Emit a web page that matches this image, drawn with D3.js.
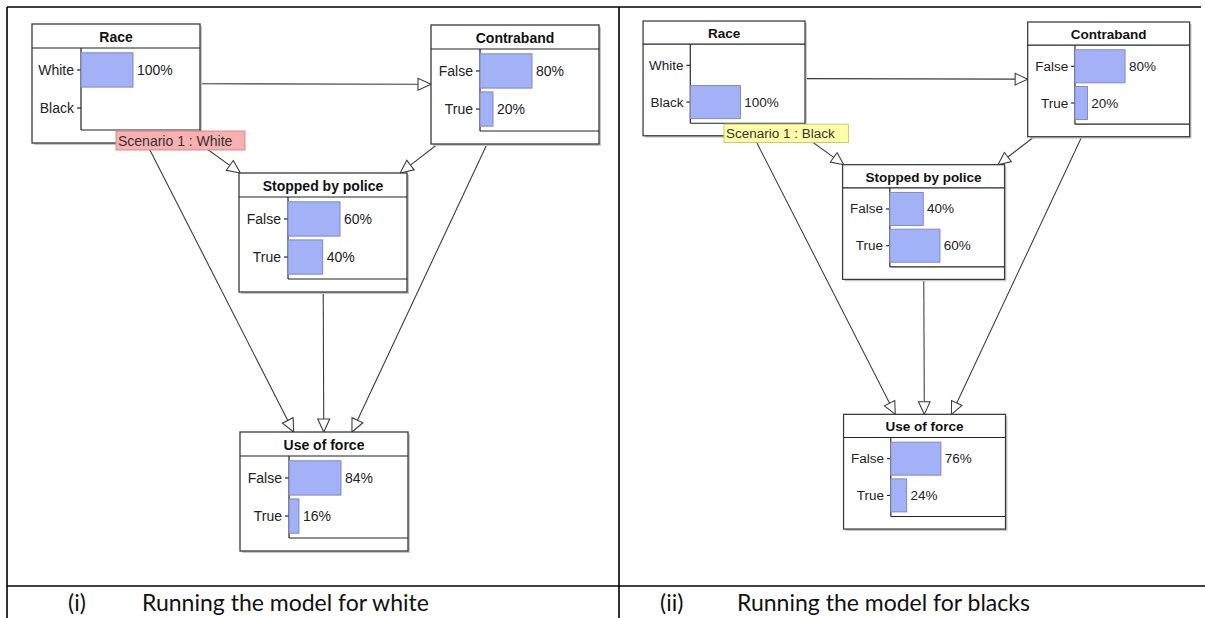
<!DOCTYPE html>
<html lang="en">
  <head>
    <meta charset="UTF-8">
    <title>Bayesian network - use of force scenarios</title>
    <style>
      body { margin: 0; background: #fff; }
      .grid-line { stroke: #000; stroke-width: 1.6px; }
      .edge { fill: none; stroke: #3c3c3c; stroke-width: 1.1px; }
      .arrow-head { fill: #fff; stroke: #3c3c3c; stroke-width: 1.1px; }
      .node-shadow { fill: #c8c8c8; }
      .node-box { fill: #fff; stroke: #3a3a3a; stroke-width: 1.3px; }
      .node-title { font: bold 14px "Liberation Sans", Arial, sans-serif; fill: #111; }
      .state-label, .pct-label { font: 14px "Liberation Sans", Arial, sans-serif; fill: #222; }
      .axis-line { stroke: #222; stroke-width: 1.2px; }
      .bar { fill: #a3b1f7; stroke: #7d89c9; stroke-width: 1px; }
      .scenario-text { font: 14px "Liberation Sans", Arial, sans-serif; fill: #333; }
      .caption { font: 23px Lato, "Open Sans", sans-serif; fill: #111; }
    </style>
  </head>
  <body>
    <script src="https://cdnjs.cloudflare.com/ajax/libs/d3/7.8.5/d3.min.js"></script>
    <script>
      // --- data ---
      const nodeNames = ["Race", "Contraband", "Stopped by police", "Use of force"];
      const nodeStates = [["White", "Black"], ["False", "True"], ["False", "True"], ["False", "True"]];
      // parent -> child
      const edges = [[0, 1], [0, 2], [1, 2], [0, 3], [1, 3], [2, 3]];

      const scenarioLabels = ["Scenario 1 : White", "Scenario 1 : Black"];
      const probsWhite = [[100, 0], [80, 20], [60, 40], [84, 16]];
      const probsBlack = [[0, 100], [80, 20], [40, 60], [76, 24]];
      const captionNumbers = ["(i)", "(ii)"];
      const captionTexts = ["Running the model for white", "Running the model for blacks"];

      const W = 1205, H = 618;

      const svg = d3.select("body").append("svg")
        .attr("width", W)
        .attr("height", H);

      // node boxes in diagram units (left panel is 1:1 with pixels)
      const nodeW = 168, nodeH = 119, headerH = 24, axisX = 49, axisBottom = 106;
      const nodePos = [[32, 24], [431, 25], [239, 173], [240, 432]];

      const panels = [
        { probs: probsWhite, scenario: scenarioLabels[0], tx: 0, ty: 0, k: 1,
          tagFill: "#f8b0b0", tagStroke: "#d88a8a" },
        { probs: probsBlack, scenario: scenarioLabels[1], tx: 612.2, ty: -2.1, k: 0.964,
          tagFill: "#ffffa8", tagStroke: "#c8c870" }
      ];

      const rowScale = d3.scaleBand().range([25, 105]).padding(0.1);

      // where the line from the box centre towards (px,py) leaves the box
      function clipToBox(i, px, py) {
        const [x, y] = nodePos[i];
        const cx = x + nodeW / 2, cy = y + nodeH / 2;
        const dx = px - cx, dy = py - cy;
        const t = Math.min(
          dx === 0 ? Infinity : (nodeW / 2) / Math.abs(dx),
          dy === 0 ? Infinity : (nodeH / 2) / Math.abs(dy));
        return [cx + dx * t, cy + dy * t];
      }

      panels.forEach(p => {
        const g = svg.append("g")
          .attr("transform", `translate(${p.tx},${p.ty}) scale(${p.k})`);

        // edges with hollow arrow heads
        edges.forEach(([s, t]) => {
          const sc = [nodePos[s][0] + nodeW / 2, nodePos[s][1] + nodeH / 2];
          const tc = [nodePos[t][0] + nodeW / 2, nodePos[t][1] + nodeH / 2];
          const a = clipToBox(s, tc[0], tc[1]);
          const b = clipToBox(t, sc[0], sc[1]);
          const len = Math.hypot(b[0] - a[0], b[1] - a[1]);
          const ux = (b[0] - a[0]) / len, uy = (b[1] - a[1]) / len;
          const headL = 13, headW = 6;
          const bx = b[0] - ux * headL, by = b[1] - uy * headL;
          g.append("line").attr("class", "edge")
            .attr("x1", a[0]).attr("y1", a[1]).attr("x2", bx).attr("y2", by);
          g.append("path").attr("class", "arrow-head")
            .attr("d", `M${b[0]},${b[1]} L${bx - uy * headW},${by + ux * headW} L${bx + uy * headW},${by - ux * headW} Z`);
        });

        // nodes
        nodeNames.forEach((name, i) => {
          const [x, y] = nodePos[i];
          const node = g.append("g").attr("transform", `translate(${x},${y})`);
          node.append("rect").attr("class", "node-shadow")
            .attr("x", 2).attr("y", 2).attr("width", nodeW).attr("height", nodeH);
          node.append("rect").attr("class", "node-box")
            .attr("width", nodeW).attr("height", nodeH);
          node.append("line").attr("class", "axis-line")
            .attr("x1", 0).attr("x2", nodeW).attr("y1", headerH).attr("y2", headerH);
          node.append("text").attr("class", "node-title")
            .attr("x", nodeW / 2).attr("y", headerH / 2 + 1)
            .attr("text-anchor", "middle").attr("dominant-baseline", "central")
            .text(name);

          const values = p.probs[i];
          const barScale = d3.scaleLinear().domain([0, d3.max(values)]).range([0, 52]);
          rowScale.domain(nodeStates[i]);

          // chart axes
          node.append("line").attr("class", "axis-line")
            .attr("x1", axisX).attr("x2", axisX).attr("y1", headerH).attr("y2", axisBottom);
          node.append("line").attr("class", "axis-line")
            .attr("x1", axisX).attr("x2", nodeW).attr("y1", axisBottom).attr("y2", axisBottom);

          nodeStates[i].forEach((st, j) => {
            const yc = rowScale(st) + rowScale.bandwidth() / 2;
            node.append("line").attr("class", "axis-line")
              .attr("x1", axisX - 4).attr("x2", axisX).attr("y1", yc).attr("y2", yc);
            node.append("text").attr("class", "state-label")
              .attr("x", axisX - 7).attr("y", yc)
              .attr("text-anchor", "end").attr("dominant-baseline", "central")
              .text(st);
            if (values[j] > 0) {
              node.append("rect").attr("class", "bar")
                .attr("x", axisX).attr("y", rowScale(st))
                .attr("width", barScale(values[j])).attr("height", rowScale.bandwidth());
              node.append("text").attr("class", "pct-label")
                .attr("x", axisX + barScale(values[j]) + 4).attr("y", yc)
                .attr("dominant-baseline", "central")
                .text(values[j] + "%");
            }
          });
        });

        // scenario tag under the Race node
        const tag = g.append("g")
          .attr("transform", `translate(${nodePos[0][0] + 84},${nodePos[0][1] + 107})`);
        tag.append("rect")
          .attr("width", 129).attr("height", 19)
          .attr("fill", p.tagFill).attr("stroke", p.tagStroke);
        tag.append("text").attr("class", "scenario-text")
          .attr("x", 2).attr("y", 10).attr("dominant-baseline", "central")
          .text(p.scenario);
      });

      // table grid around the two pictures
      const grid = [
        [7, 7, 1201, 7],
        [7, 7, 7, H],
        [619, 7, 619, H],
        [7, 586, W, 586]
      ];
      svg.selectAll("line.grid-line").data(grid).enter().append("line")
        .attr("class", "grid-line")
        .attr("x1", d => d[0]).attr("y1", d => d[1])
        .attr("x2", d => d[2]).attr("y2", d => d[3]);

      // captions
      const capNumX = [68, 660], capTextX = [142, 737];
      captionTexts.forEach((t, i) => {
        svg.append("text").attr("class", "caption")
          .attr("x", capNumX[i]).attr("y", 611).text(captionNumbers[i]);
        svg.append("text").attr("class", "caption")
          .attr("x", capTextX[i]).attr("y", 611).text(t);
      });
    </script>
  </body>
</html>
